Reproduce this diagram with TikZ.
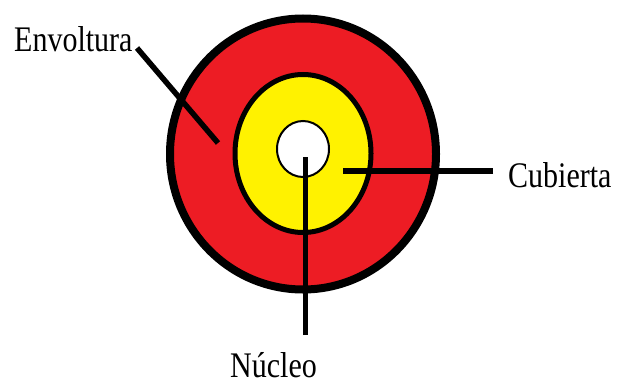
\documentclass[tikz,border=0pt]{standalone}
\usepackage{fontspec}
\setmainfont{Liberation Serif}
\definecolor{ringred}{HTML}{ED1C24}
\definecolor{ringyellow}{HTML}{FFF200}
\tikzset{
  lbl/.style={inner sep=0pt, font=\fontsize{30}{36}\selectfont, anchor=base west},
  leader/.style={draw=black, line width=5.5pt, line cap=butt},
}
\newcommand{\tallt}[1]{\scalebox{1}[1.2]{#1}}
\begin{document}
\begin{tikzpicture}[x=1pt, y=-1pt]
\useasboundingbox (0,0) rectangle (620,385);
% rings
\draw[fill=ringred, line width=8pt] (303,154) ellipse [x radius=133, y radius=135.5];
\draw[fill=ringyellow, line width=5pt] (303,153.5) ellipse [x radius=68, y radius=79];
\draw[fill=white, line width=2pt] (303,149) ellipse [x radius=26, y radius=28];
% labels
\node[lbl] (env) at (14,52) {\tallt{Envoltura}};
\node[lbl] (cub) at (508,187) {\tallt{Cubierta}};
\node[lbl] (nuc) at (230,377) {\tallt{Núcleo}};
% leader end points
\coordinate (envA) at (137,48);
\coordinate (envB) at (218,143);
\coordinate (cubA) at (493,171);
\coordinate (cubB) at (343,171);
\coordinate (nucA) at (305,335);
\coordinate (nucB) at (305,157);
\draw[leader] (envA) -- (envB);
\draw[leader] (cubA) -- (cubB);
\draw[leader, line width=5pt] (nucA) -- (nucB);
\end{tikzpicture}
\end{document}
